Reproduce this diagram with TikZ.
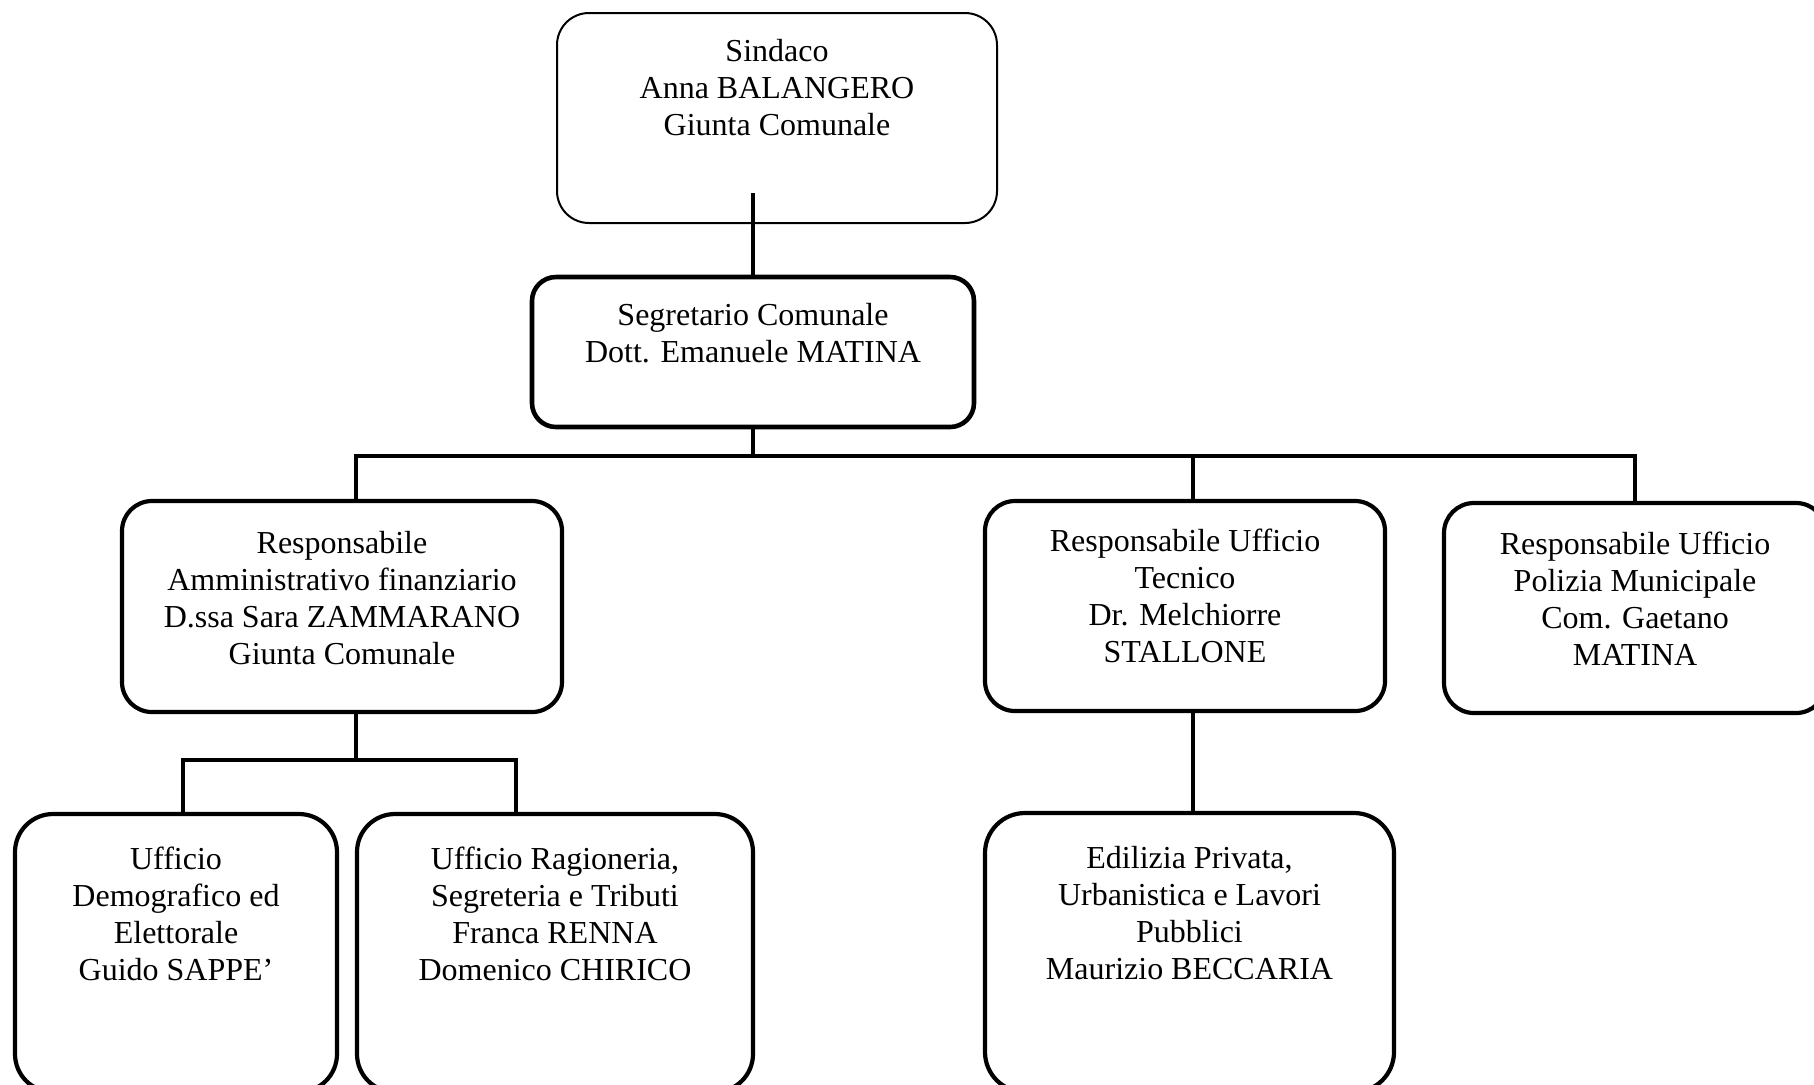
\documentclass[tikz,border=0pt]{standalone}
\usepackage{fontspec}
\newfontfamily\orgfont{Liberation Serif}
% box content: width, height, top gap, lines
\newcommand{\orgtext}[4]{\parbox[c][#2][t]{#1}{\centering\vspace*{#3}\strut#4}}

\tikzset{
  orgbox/.style={draw, line width=2.1pt, rounded corners=15pt, inner sep=0pt, outer sep=0pt,
    anchor=north west, font={\orgfont\fontsize{16}{18.5}\selectfont}},
  link/.style={line width=1.8pt}
}

\begin{document}
\begin{tikzpicture}[x=1pt,y=1pt,yscale=-1,xscale=1]
\useasboundingbox (0,0) rectangle (907,542);

% Sindaco
\node[orgbox, line width=1pt, rounded corners=16pt] (sind) at (278.5,6.5)
  {\orgtext{220pt}{105pt}{11.5pt}{Sindaco\\Anna BALANGERO\\Giunta Comunale}};
% Segretario
\node[orgbox, line width=2.3pt, rounded corners=12pt] (segr) at (266,138.5)
  {\orgtext{221pt}{75pt}{11.5pt}{Segretario Comunale\\Dott. Emanuele MATINA}};
% Responsabili
\node[orgbox] (amm) at (61,250.5)
  {\orgtext{220pt}{105.5pt}{13.3pt}{Responsabile\\Amministrativo finanziario\\D.ssa Sara ZAMMARANO\\Giunta Comunale}};
\node[orgbox] (tecn) at (492.5,250.5)
  {\orgtext{200pt}{105pt}{12.5pt}{Responsabile Ufficio\\Tecnico\\Dr. Melchiorre\\STALLONE}};
\node[orgbox] (poliz) at (722,251.5)
  {\orgtext{191pt}{105pt}{12.7pt}{Responsabile Ufficio\\Polizia Municipale\\Com. Gaetano\\MATINA}};
% Uffici
\node[orgbox, rounded corners=19pt] (demo) at (7.5,407)
  {\orgtext{161pt}{139pt}{14.6pt}{Ufficio\\Demografico ed\\Elettorale\\Guido SAPPE’}};
\node[orgbox, rounded corners=19pt] (ragio) at (178.5,407)
  {\orgtext{198pt}{139pt}{14.6pt}{Ufficio Ragioneria,\\Segreteria e Tributi\\Franca RENNA\\Domenico CHIRICO}};
\node[orgbox, rounded corners=20pt] (edil) at (492.5,406.5)
  {\orgtext{204.5pt}{139.5pt}{15pt}{Edilizia Privata,\\Urbanistica e Lavori\\Pubblici\\Maurizio BECCARIA}};

% bus points
\coordinate (sinddrop) at (376.5,96.5);
\coordinate (busL) at (178,228);
\coordinate (busM) at (596.5,228);
\coordinate (busR) at (817.5,228);
\coordinate (subL) at (91.5,380);
\coordinate (subR) at (258,380);

% Connections
\draw[link] (sinddrop) -- (segr.north -| sinddrop);
\draw[link] (segr.south) -- (segr.south |- busL);
\draw[link] (amm.north -| busL) -- (busL) -- (busR) -- (poliz.north -| busR);
\draw[link] (busM) -- (tecn.north -| busM);
\draw[link] (amm.south -| busL) -- (busL |- subL);
\draw[link] (demo.north -| subL) -- (subL) -- (subR) -- (ragio.north -| subR);
\draw[link] (tecn.south -| busM) -- (edil.north -| busM);

\end{tikzpicture}
\end{document}
